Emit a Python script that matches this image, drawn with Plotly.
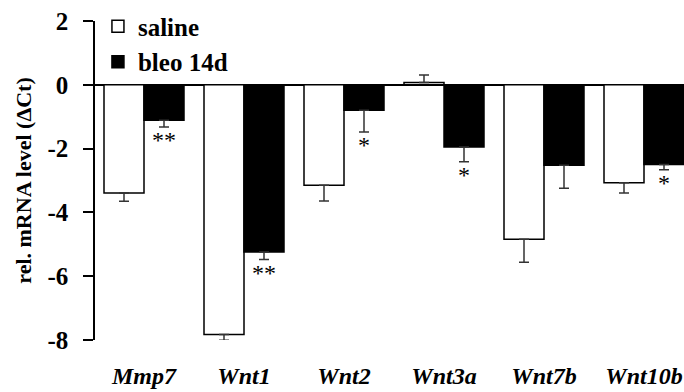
import plotly.graph_objects as go

genes = ["Mmp7", "Wnt1", "Wnt2", "Wnt3a", "Wnt7b", "Wnt10b"]
saline = [-3.39, -7.83, -3.15, 0.07, -4.84, -3.07]
saline_err = [0.26, 0.18, 0.49, 0.24, 0.72, 0.32]
bleo = [-1.11, -5.24, -0.80, -1.95, -2.52, -2.50]
bleo_err = [0.21, 0.24, 0.68, 0.46, 0.72, 0.16]
bleo_sig = ["**", "**", "*", "*", "", "*"]
y_ticks = [2, 0, -2, -4, -6, -8]

FONT = "Liberation Serif"
xs = list(range(len(genes)))


def err_parts(vals, errs):
    plus = [e if v >= 0 else 0 for v, e in zip(vals, errs)]
    minus = [e if v < 0 else 0 for v, e in zip(vals, errs)]
    return plus, minus


sp, sm = err_parts(saline, saline_err)
bp, bm = err_parts(bleo, bleo_err)

fig = go.Figure()
fig.add_trace(go.Bar(
    x=xs, y=saline, name="saline",
    marker=dict(color="white", line=dict(color="black", width=1.5)),
    error_y=dict(type="data", symmetric=False, array=sp, arrayminus=sm,
                 color="#333", thickness=1.5, width=5),
))
fig.add_trace(go.Bar(
    x=xs, y=bleo, name="bleo 14d",
    marker=dict(color="black", line=dict(color="black", width=1.5)),
    error_y=dict(type="data", symmetric=False, array=bp, arrayminus=bm,
                 color="#333", thickness=1.5, width=5),
))

for i, (v, e, s) in enumerate(zip(bleo, bleo_err, bleo_sig)):
    if s:
        fig.add_annotation(x=i + 0.2, y=v - e, yanchor="top", yshift=2,
                           text=s, showarrow=False,
                           font=dict(family=FONT, size=24, color="#000000"))

fig.update_layout(
    template="none",
    width=684, height=392,
    margin=dict(l=95, r=0, t=21, b=52),
    plot_bgcolor="white", paper_bgcolor="white",
    barmode="group", bargap=0.2, bargroupgap=0,
    font=dict(family=FONT, color="black"),
    legend=dict(x=0.005, y=1.055, xanchor="left", yanchor="top",
                bgcolor="rgba(0,0,0,0)",
                font=dict(family=FONT, size=25, weight="bold", color="black"),
                tracegroupgap=0),
    showlegend=True,
)
fig.update_xaxes(
    range=[-0.49, 5.40], tickvals=xs, ticktext=genes,
    showline=False, ticks="", showgrid=False, zeroline=False,
    tickfont=dict(family=FONT, size=24, weight="bold", style="italic", color="black"),
    ticklabelstandoff=19,
)
fig.update_yaxes(
    range=[-8, 2], tickvals=y_ticks, ticktext=[str(t) for t in y_ticks],
    showline=True, linecolor="black", linewidth=1.5,
    ticks="outside", ticklen=10, tickwidth=1.5, tickcolor="black",
    showgrid=False, zeroline=True, zerolinecolor="black", zerolinewidth=1.5,
    tickfont=dict(family=FONT, size=25, weight="bold", color="black"),
    ticklabelstandoff=10,
    title=dict(text="rel. mRNA level (ΔCt)", standoff=10,
               font=dict(family=FONT, size=22, weight="bold", color="black")),
)

fig.write_html("out.html")
